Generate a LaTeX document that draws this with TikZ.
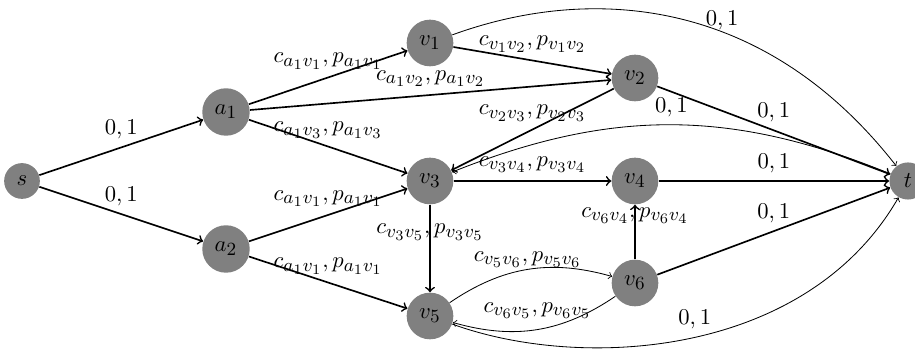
\documentclass[tikz,border=0pt,11pt]{standalone}
\DeclareMathSizes{10.95}{10.95}{9}{7}
\begin{document}
\begin{tikzpicture}[x=0.484pt,y=0.484pt,
  vtx/.style={circle,fill=gray},
  heavy/.style={->,thick},
  light/.style={->},
  lab/.style={above},
  clab/.style={above}]
\useasboundingbox (0,0) rectangle (915,363);
% nodes
\node[vtx] (s)  at (22,182)  {$s$};
\node[vtx] (a1) at (226,251) {$a_1$};
\node[vtx] (a2) at (226,114) {$a_2$};
\node[vtx] (v1) at (430,320) {$v_1$};
\node[vtx] (v2) at (635,285) {$v_2$};
\node[vtx] (v3) at (430,182) {$v_3$};
\node[vtx] (v4) at (635,182) {$v_4$};
\node[vtx] (v5) at (430,47)  {$v_5$};
\node[vtx] (v6) at (635,80)  {$v_6$};
\node[vtx] (t)  at (908,182) {$t$};
% thick edges
\draw[heavy] (s) -- node[lab] {$0,1$} (a1);
\draw[heavy] (s) -- node[lab] {$0,1$} (a2);
\draw[heavy] (a1) -- node[clab] {$c_{a_1v_1},p_{a_1v_1}$} (v1);
\draw[heavy] (a1) -- node[clab] {$c_{a_1v_2},p_{a_1v_2}$} (v2);
\draw[heavy] (a1) -- node[clab] {$c_{a_1v_3},p_{a_1v_3}$} (v3);
\draw[heavy] (a2) -- node[clab] {$c_{a_1v_1},p_{a_1v_1}$} (v3);
\draw[heavy] (a2) -- node[clab] {$c_{a_1v_1},p_{a_1v_1}$} (v5);
\draw[heavy] (v1) -- node[clab] {$c_{v_1v_2},p_{v_1v_2}$} (v2);
\draw[heavy] (v2) -- node[clab] {$c_{v_2v_3},p_{v_2v_3}$} (v3);
\draw[heavy] (v3) -- node[clab] {$c_{v_3v_4},p_{v_3v_4}$} (v4);
\draw[heavy] (v3) -- node[clab] {$c_{v_3v_5},p_{v_3v_5}$} (v5);
\draw[heavy] (v6) -- node[clab] {$c_{v_6v_4},p_{v_6v_4}$} (v4);
\draw[heavy] (v2) -- node[lab] {$0,1$} (t);
\draw[heavy] (v4) -- node[lab] {$0,1$} (t);
\draw[heavy] (v6) -- node[lab] {$0,1$} (t);
% thin curved edges
\draw[light] (v5) to[bend left=25] node[clab,yshift=-3pt] {$c_{v_5v_6},p_{v_5v_6}$} (v6);
\draw[light] (v6) to[bend left=25] node[clab,yshift=1.5pt] {$c_{v_6v_5},p_{v_6v_5}$} (v5);
\draw[light] (t) to[bend right=22] node[lab] {$0,1$} (v3);
\draw[light] (v1) .. controls +(20:170) and +(128:235) .. node[lab,pos=0.6,yshift=-3pt] {$0,1$} (t);
\draw[light] (v5) .. controls +(-20:160) and +(240:205) .. node[lab,pos=0.5,xshift=3pt,yshift=1pt] {$0,1$} (t);
\end{tikzpicture}
\end{document}
